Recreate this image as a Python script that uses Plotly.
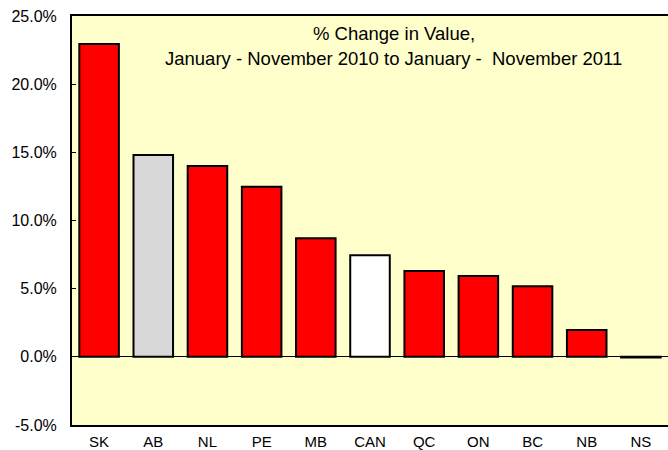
import plotly.graph_objects as go

# provinces, ordered as in the chart
provinces = ["SK", "AB", "NL", "PE", "MB", "CAN", "QC", "ON", "BC", "NB", "NS"]
pct_change = [22.95, 14.8, 14.0, 12.48, 8.7, 7.46, 6.29, 5.92, 5.17, 1.96, -0.05]
bar_colors = ["#FF0000", "#D8D8D8", "#FF0000", "#FF0000", "#FF0000", "#FFFFFF",
              "#FF0000", "#FF0000", "#FF0000", "#FF0000", "#FF0000"]

y_ticks = [-5, 0, 5, 10, 15, 20, 25]
y_tick_text = ["-5.0%", "0.0%", "5.0%", "10.0%", "15.0%", "20.0%", "25.0%"]

title_lines = ["% Change in Value,",
               "January - November 2010 to January -  November 2011"]

fig = go.Figure()
fig.add_trace(go.Bar(
    x=provinces, y=pct_change,
    marker=dict(color=bar_colors, line=dict(color="black", width=2)),
    showlegend=False,
))

fig.update_layout(
    width=668, height=450,
    margin=dict(l=72, r=0, t=16, b=25),
    paper_bgcolor="white",
    plot_bgcolor="#FFFFCC",
    bargap=0.27,
    font=dict(family="Arial, Liberation Sans, sans-serif", size=16, color="black"),
    xaxis=dict(
        range=[-0.5, 10.5],
        showline=True, linecolor="black", linewidth=2, mirror=True,
        ticks="", showgrid=False,
        tickfont=dict(size=15),
        ticklabelstandoff=2,
        automargin=False,
    ),
    yaxis=dict(
        range=[-5, 25],
        tickvals=y_ticks, ticktext=y_tick_text,
        showline=True, linecolor="black", linewidth=2,
        ticks="inside", ticklen=4, tickcolor="black",
        ticklabelstandoff=10,
        showgrid=False,
        zeroline=True, zerolinecolor="black", zerolinewidth=1,
        automargin=False,
    ),
)

fig.add_annotation(text=title_lines[0], xref="paper", yref="paper",
                   x=0.54, y=0.958, yanchor="middle", showarrow=False,
                   font=dict(size=18.5))
fig.add_annotation(text=title_lines[1], xref="paper", yref="paper",
                   x=0.54, y=0.895, yanchor="middle", showarrow=False,
                   font=dict(size=18.5))

# drop the default 8px body margin so the figure sits at the page corner
fig.write_html("out.html", config={"displayModeBar": False},
               post_script="document.body.style.margin='0px';")
